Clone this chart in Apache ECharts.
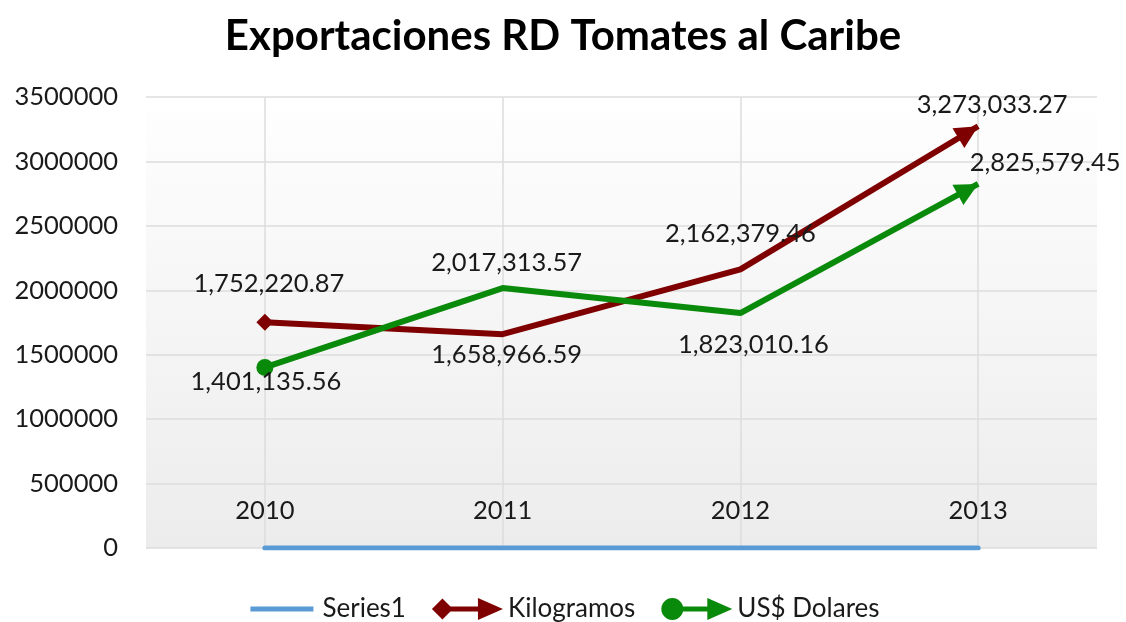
<!DOCTYPE html>
<html>
<head>
<meta charset="utf-8">
<script src="https://cdn.jsdelivr.net/npm/echarts@6/dist/echarts.min.js"></script>
<style>
  html, body { margin: 0; padding: 0; background: #fff; }
  #chart { width: 1126px; height: 622px; }
</style>
</head>
<body>
<div id="chart"></div>
<script>
const years = ['2010', '2011', '2012', '2013'];
const series1 = [0, 0, 0, 0];
const kilogramos = [1752220.87, 1658966.59, 2162379.46, 3273033.27];
const dolares = [1401135.56, 2017313.57, 1823010.16, 2825579.45];
const yTicks = { min: 0, max: 3500000, interval: 500000 };

const red = '#7f0000';
const green = '#0a8a0a';
const blue = '#5b9bd5';
const font = 'Lato, "Open Sans", sans-serif';

// label placement (pixel offsets from the point, label centre)
const kgLabelOff = [[4, -38], [4, 21], [0, -36], [14, -21]];
const usLabelOff = [[1, 14], [4, -25], [13, 32], [67, -21]];

const fmt = v => v.toLocaleString('en-US', { minimumFractionDigits: 2, maximumFractionDigits: 2 });

function circlePath(cx, cy, r) {
  let s = '';
  for (let k = 0; k < 28; k++) {
    const t = k / 28 * Math.PI * 2;
    s += (k ? ' L' : 'M') + (cx + r * Math.cos(t)).toFixed(2) + ',' + (cy + r * Math.sin(t)).toFixed(2);
  }
  return s + ' Z';
}
const shaft = ' M10,8.5 L50,8.5 L50,13.5 L10,13.5 Z M46,0 L71,11 L46,22 Z';
const kgIcon = 'path://M0,11 L10.5,0.5 L21,11 L10.5,21.5 Z' + shaft;
const usIcon = 'path://' + circlePath(11, 11, 11) + shaft;
const s1Icon = 'path://M0,0 L0.05,0 L0,0.05 Z M71,22 L70.95,22 L71,21.95 Z M4,8.5 L67,8.5 L67,13.5 L4,13.5 Z';

var chart = echarts.init(document.getElementById('chart'), null, { renderer: 'canvas' });

function points(vals, offs, firstSymbol) {
  return vals.map(function (v, i) {
    let p = {
      value: v,
      symbol: 'circle',
      symbolSize: 1,
      label: { position: 'inside', offset: offs[i].slice() }
    };
    if (i === 0) {
      p.symbol = firstSymbol;
      p.symbolSize = 17;
    }
    return p;
  });
}

const labelStyle = {
  show: true,
  fontFamily: font,
  fontSize: 25.5,
  color: '#1a1a1a',
  formatter: p => fmt(p.value)
};

var option = {
  backgroundColor: '#fff',
  animation: false,
  title: {
    text: 'Exportaciones RD Tomates al Caribe',
    left: 'center',
    top: 10,
    textStyle: { fontFamily: font, fontSize: 42, fontWeight: 'bold', color: '#000' }
  },
  legend: {
    bottom: -5,
    left: 'center',
    itemWidth: 71,
    itemHeight: 22,
    itemGap: 26,
    textStyle: { fontFamily: font, fontSize: 26, color: '#1a1a1a' },
    data: [
      { name: 'Series1', icon: s1Icon, itemStyle: { color: blue } },
      { name: 'Kilogramos', icon: kgIcon, itemStyle: { color: red } },
      { name: 'US$ Dolares', icon: usIcon, itemStyle: { color: green } }
    ]
  },
  grid: {
    left: 146, right: 29, top: 97, bottom: 74,
    show: true,
    borderWidth: 0,
    backgroundColor: new echarts.graphic.LinearGradient(0, 0, 0, 1, [
      { offset: 0, color: '#ffffff' },
      { offset: 0.12, color: '#fcfcfc' },
      { offset: 1, color: '#ececec' }
    ])
  },
  xAxis: {
    type: 'category',
    data: years,
    boundaryGap: true,
    axisLine: { show: false },
    axisTick: { show: false, alignWithLabel: true },
    axisLabel: { inside: true, margin: 24, fontFamily: font, fontSize: 25.5, color: '#1a1a1a' },
    splitLine: { show: true, alignWithLabel: true, lineStyle: { color: '#dcdcdc', width: 1.5 } }
  },
  yAxis: {
    type: 'value',
    min: yTicks.min,
    max: yTicks.max,
    interval: yTicks.interval,
    axisLine: { show: false },
    axisTick: { show: false },
    axisLabel: { margin: 28, fontFamily: font, fontSize: 25.5, color: '#1a1a1a', formatter: v => String(v) },
    splitLine: { lineStyle: { color: '#dcdcdc', width: 1.5 } }
  },
  series: [
    {
      name: 'Series1',
      type: 'line',
      data: series1,
      symbol: 'none',
      color: blue,
      lineStyle: { width: 5, color: blue, cap: 'round' },
      z: 5
    },
    {
      name: 'Kilogramos',
      type: 'line',
      data: points(kilogramos, kgLabelOff, 'diamond'),
      color: red,
      lineStyle: { width: 6, color: red },
      itemStyle: { color: red },
      label: labelStyle,
      z: 3
    },
    {
      name: 'US$ Dolares',
      type: 'line',
      data: points(dolares, usLabelOff, 'circle'),
      color: green,
      lineStyle: { width: 6, color: green },
      itemStyle: { color: green },
      label: labelStyle,
      z: 4
    }
  ]
};

chart.setOption(option);

// arrow heads at the last point, pointing along the last segment
function arrowFor(vals, item) {
  const n = vals.length - 1;
  const a = chart.convertToPixel({ gridIndex: 0 }, [n - 1, vals[n - 1]]);
  const b = chart.convertToPixel({ gridIndex: 0 }, [n, vals[n]]);
  const ang = Math.atan2(a[1] - b[1], b[0] - a[0]);
  const h = 23;
  const off = [-Math.cos(ang) * h / 2, Math.sin(ang) * h / 2];
  item.symbol = 'triangle';
  item.symbolSize = [23, h];
  item.symbolRotate = ang * 180 / Math.PI - 90;
  item.symbolOffset = off;
  item.label.offset = [item.label.offset[0] - off[0], item.label.offset[1] - off[1]];
}

const kgData = option.series[1].data;
arrowFor(kilogramos, kgData[kgData.length - 1]);
const usData = option.series[2].data;
arrowFor(dolares, usData[usData.length - 1]);
chart.setOption({ series: [{}, { data: kgData }, { data: usData }] });

window.addEventListener('resize', chart.resize);
</script>
</body>
</html>
